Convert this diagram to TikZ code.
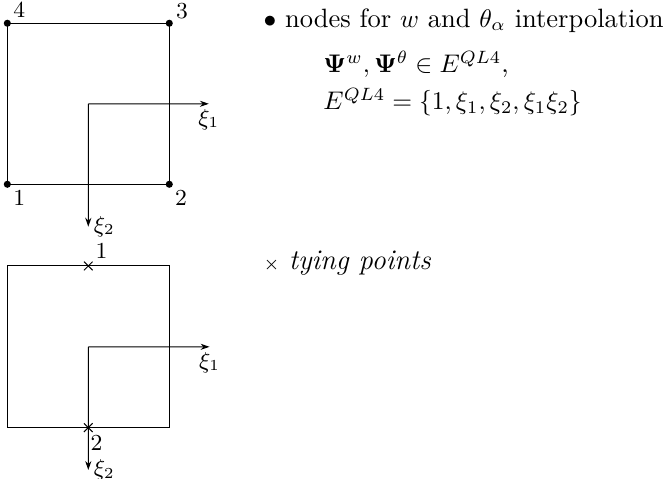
\documentclass[tikz,border=0pt]{standalone}
\usepackage{tikz}
\usetikzlibrary{arrows.meta, positioning, shapes.misc, calc}
\tikzset{
  vtx/.style={circle, fill=black, inner sep=0pt, minimum size=2.8pt},
  tie/.style={cross out, draw=black, line width=0.4pt, inner sep=0pt, minimum size=3pt},
  elem/.style={draw=black, line width=0.4pt},
  axis/.style={->, >={Stealth[length=3.5pt, width=2.4pt]}, line width=0.4pt},
  nlab/.style={font=\small, inner sep=1pt},
  txt/.style={anchor=base west, inner sep=0pt, font=\fontsize{10.4}{12.5}\selectfont},
}

\begin{document}
\begin{tikzpicture}
  \useasboundingbox (0,0) rectangle (9.228,6.607);
  % QL4 element with interpolation nodes
  \node[vtx, label={[nlab]below right:1}] (c1) at (0.101,4.065) {};
  \node[vtx, label={[nlab]below right:2}] (c2) at (2.335,4.065) {};
  \node[vtx, label={[nlab]20:3}] (c3) at (2.335,6.286) {};
  \node[vtx, label={[nlab]above right:4}] (c4) at (0.101,6.286) {};
  \draw[elem] (c1.center) -- (c2.center) -- (c3.center) -- (c4.center) -- cycle;
  \coordinate (o1) at ($(c1.center)!0.5!(c3.center)$);
  \coordinate (a1) at (2.88,5.175);
  \coordinate (a2) at (1.218,3.48);
  \draw[axis] (o1) -- (a1) node[nlab, below=1pt] (xi1) {$\xi_1$};
  \draw[axis] (o1) -- (a2) node[nlab, right=1pt] (xi2) {$\xi_2$};
  % QL4 element with tying points
  \coordinate (b1) at (0.101,0.708);
  \coordinate (b2) at (2.335,0.708);
  \coordinate (b3) at (2.335,2.938);
  \coordinate (b4) at (0.101,2.938);
  \draw[elem] (b1) -- (b2) -- (b3) -- (b4) -- cycle;
  \node[tie, label={[nlab]above right:1}] (t1) at ($(b4)!0.5!(b3)$) {};
  \node[tie, label={[nlab, xshift=-2pt]below right:2}] (t2) at ($(b1)!0.5!(b2)$) {};
  \coordinate (o2) at ($(b1)!0.5!(b3)$);
  \coordinate (d1) at (2.89,1.823);
  \coordinate (d2) at (1.218,0.124);
  \draw[axis] (o2) -- (d1) node[nlab, below=1pt] (eta1) {$\xi_1$};
  \draw[axis] (o2) -- (d2) node[nlab, right=1pt] (eta2) {$\xi_2$};
  % notes
  \node[txt] (bul) at (3.628,6.234) {$\bullet$ nodes for $w$ and $\theta_\alpha$ interpolation};
  \node[txt] (eq1) at (4.455,5.6) {$\mathbf{\Psi}^w, \mathbf{\Psi}^\theta \in E^{QL4}$,};
  \node[txt] (eq2) at (4.455,5.09) {$E^{QL4} = \{1, \xi_1, \xi_2, \xi_1\xi_2\}$};
  \node[txt, font=\fontsize{11.2}{13.4}\selectfont] (tying) at (3.628,2.883) {{\scriptsize$\times$} \textit{tying points}};
\end{tikzpicture}
\end{document}
